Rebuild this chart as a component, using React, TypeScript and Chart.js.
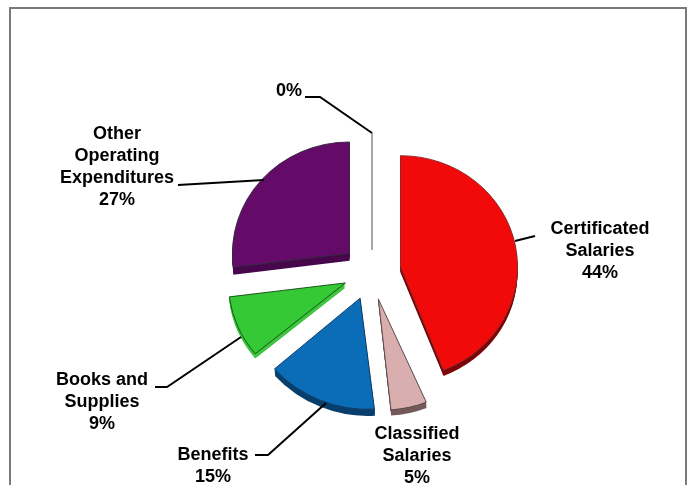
import React, { useEffect, useRef } from "react";
import { Chart, registerables } from "chart.js";

Chart.register(...registerables);

// Share of expenditures by category, clockwise from twelve o'clock.
const categories = [
  "Certificated Salaries",
  "Classified Salaries",
  "Benefits",
  "Books and Supplies",
  "Other Operating Expenditures",
  "Unallocated",
];
const shares = [44, 5, 15, 9, 27, 0];
const faceColors = ["#f20a0a", "#d8aeae", "#0b6cb8", "#35c935", "#640a68", "#a0a0a0"];
const sideColors = ["#7c0508", "#75595b", "#083f6c", "#3fc43f", "#47084c", "#a0a0a0"];
const edgeColors = ["#8a2a2a", "#5a4a4a", "#123f66", "#185218", "#3a2a44", "#888888"];
const explode = [29, 29, 30, 29, 30, 22];
const rimDepths = [6, 6, 7, 5, 8, 0];
const wedgeSkews = [0, 0.045, 0.06, 0, 0, 0];

const labelLines = [
  ["Certificated", "Salaries", "44%"],
  ["Classified", "Salaries", "5%"],
  ["Benefits", "15%"],
  ["Books and", "Supplies", "9%"],
  ["Other", "Operating", "Expenditures", "27%"],
  ["0%"],
];

const labelCenters = [
  [600, 229],
  [417, 434],
  [213, 455],
  [102, 380],
  [117, 134],
  [289, 91],
];
const leaders = [
  [[515, 241], [535, 236]],
  [],
  [[255, 455], [268, 455], [326, 403]],
  [[155, 387], [167, 387], [241, 337]],
  [[178, 185], [264, 180]],
  [[305, 97], [320, 97], [372, 133]],
];

const LINE_GAP = 22;
const TILT = 0.95;

const explodedPie = {
  id: "explodedPie",
  beforeDraw(chart: any) {
    const { ctx } = chart;
    ctx.save();
    ctx.fillStyle = "#ffffff";
    ctx.fillRect(0, 0, chart.width, chart.height);
    ctx.strokeStyle = "#7a7a7a";
    ctx.lineWidth = 2;
    ctx.strokeRect(10, 8, 676, 520);
    ctx.restore();
  },
  beforeDatasetDraw(chart: any) {
    const { ctx } = chart;
    const arcs = chart.getDatasetMeta(0).data;
    arcs.forEach((arc: any, i: number) => {
      const { x, y, startAngle, endAngle, outerRadius } = arc.getProps([
        "x",
        "y",
        "startAngle",
        "endAngle",
        "outerRadius",
      ]);
      const mid = (startAngle + endAngle) / 2;
      const dx = Math.cos(mid) * explode[i];
      const dy = Math.sin(mid) * explode[i];
      ctx.save();
      if (endAngle - startAngle < 1e-6) {
        // A zero share shows up as a single hairline radius.
        ctx.translate(dx, dy);
        ctx.strokeStyle = "#8a8a8a";
        ctx.lineWidth = 1.5;
        ctx.beginPath();
        ctx.moveTo(x, y);
        ctx.lineTo(x + Math.cos(mid) * outerRadius, y + Math.sin(mid) * outerRadius);
        ctx.stroke();
        ctx.restore();
        return;
      }
      // Squash the pie slightly so it reads as lying on a tilted plane,
      // and lean the front wedges a little to suggest perspective.
      ctx.translate(x, y);
      ctx.scale(1, TILT);
      ctx.translate(-x, -y);
      ctx.translate(dx, dy);
      ctx.translate(x, y);
      ctx.transform(1, 0, wedgeSkews[i], 1, 0, 0);
      ctx.translate(-x, -y);
      // Extruded rim below each wedge.
      ctx.fillStyle = sideColors[i];
      for (let d = rimDepths[i]; d >= 1; d--) {
        ctx.beginPath();
        ctx.moveTo(x, y + d);
        ctx.arc(x, y + d, outerRadius, startAngle, endAngle);
        ctx.closePath();
        ctx.fill();
      }
      arc.draw(ctx);
      ctx.restore();
    });
    return false;
  },
  afterDatasetsDraw(chart: any) {
    const { ctx } = chart;
    ctx.save();
    ctx.strokeStyle = "#000000";
    ctx.lineWidth = 2;
    leaders.forEach((pts) => {
      if (!pts.length) return;
      ctx.beginPath();
      pts.forEach(([px, py], k) => (k ? ctx.lineTo(px, py) : ctx.moveTo(px, py)));
      ctx.stroke();
    });
    ctx.fillStyle = "#000000";
    ctx.font = 'bold 18px "Liberation Sans"';
    ctx.textAlign = "center";
    ctx.textBaseline = "middle";
    labelLines.forEach((lines, i) => {
      const [cx, top] = labelCenters[i];
      lines.forEach((line, k) => ctx.fillText(line, cx, top + k * LINE_GAP));
    });
    ctx.restore();
  },
};

export default function App() {
  const ref = useRef<HTMLCanvasElement>(null);
  useEffect(() => {
    const chart = new Chart(ref.current!, {
      type: "pie",
      data: {
        labels: categories,
        datasets: [
          {
            data: shares,
            backgroundColor: faceColors,
            borderColor: edgeColors,
            borderWidth: 1,
          },
        ],
      },
      options: {
        responsive: false,
        animation: false,
        radius: 117,
        layout: { padding: { left: 47, right: 0, top: 59, bottom: 0 } },
        plugins: {
          legend: { display: false },
          tooltip: { enabled: false },
        },
      },
      plugins: [explodedPie],
    });
    return () => chart.destroy();
  }, []);
  return (
    <div style={{ position: "fixed", left: 0, top: 0, width: 697, height: 485, overflow: "hidden" }}>
      <canvas ref={ref} width={697} height={485} />
    </div>
  );
}
